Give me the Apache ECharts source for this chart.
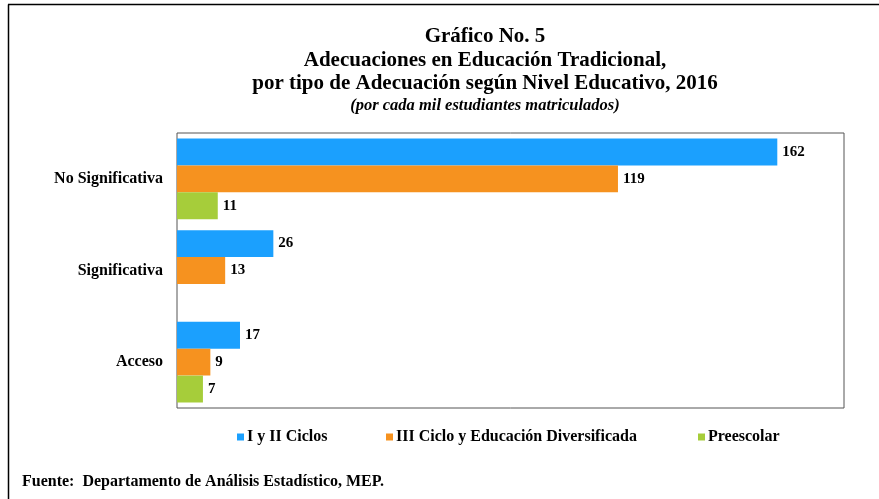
<!DOCTYPE html>
<html>
<head>
<meta charset="utf-8">
<script src="https://cdn.jsdelivr.net/npm/echarts@6/dist/echarts.min.js"></script>
<style>
  html, body { margin: 0; padding: 0; background: #fff; }
  #chart { width: 879px; height: 499px; }
</style>
</head>
<body>
<div id="chart"></div>
<script>
// data (por cada mil estudiantes)
var categorias = ["No Significativa", "Significativa", "Acceso"];
var cicloIyII = [162, 26, 17];
var cicloIII = [119, 13, 9];
var preescolar = [11, null, 7];
var nombres = ["I y II Ciclos", "III Ciclo y Educación Diversificada", "Preescolar"];
var colores = ["#1BA0FE", "#F6921F", "#A6CD3A"];

var serif = "Liberation Serif";

function serie(i, datos) {
    return {
        name: nombres[i],
        type: "bar",
        data: datos,
        barGap: "0%",
        barCategoryGap: "12%",
        itemStyle: { color: colores[i] },
        label: {
            show: true,
            position: "right",
            distance: 5,
            color: "#000",
            fontFamily: serif,
            fontWeight: "bold",
            fontSize: 15
        }
    };
}

// legends placed one by one, like the Excel original
function leyenda(i, x) {
    return {
        data: [nombres[i]],
        left: x,
        top: 429,
        padding: 0,
        icon: "rect",
        itemWidth: 7,
        itemHeight: 7,
        itemGap: 4,
        textStyle: { fontFamily: serif, fontWeight: "bold", fontSize: 16, color: "#000", padding: [0, 0, 0, -2] }
    };
}

var myChart = echarts.init(document.getElementById("chart"));
var option = {
    animation: false,
    title: [
        {
            text: "Gráfico No. 5\nAdecuaciones en Educación Tradicional,\npor tipo de Adecuación según Nivel Educativo, 2016",
            left: 485, top: 25, textAlign: "center", padding: 0,
            textStyle: { fontFamily: serif, fontWeight: "bold", fontSize: 21, lineHeight: 23.5, color: "#000" }
        },
        {
            text: "(por cada mil estudiantes matriculados)",
            left: 485, top: 97, textAlign: "center", padding: 0,
            textStyle: { fontFamily: serif, fontWeight: "bold", fontStyle: "italic", fontSize: 16.5, color: "#000" }
        },
        {
            text: "Fuente:  Departamento de Análisis Estadístico, MEP.",
            left: 22, top: 474, padding: 0,
            textStyle: { fontFamily: serif, fontWeight: "bold", fontSize: 16, color: "#000" }
        }
    ],
    legend: [leyenda(0, 237), leyenda(1, 386), leyenda(2, 698)],
    grid: {
        left: 177, top: 133, width: 667, height: 275,
        show: true, borderColor: "#555", borderWidth: 1, backgroundColor: "#fff"
    },
    xAxis: {
        type: "value", min: 0, max: 180,
        axisLine: { show: false }, axisTick: { show: false },
        axisLabel: { show: false }, splitLine: { show: false }
    },
    yAxis: {
        type: "category", data: categorias, inverse: true,
        axisLine: { show: false }, axisTick: { show: false },
        axisLabel: { margin: 14, color: "#000", fontFamily: serif, fontWeight: "bold", fontSize: 16 }
    },
    series: [serie(0, cicloIyII), serie(1, cicloIII), serie(2, preescolar)],
    graphic: [
        { type: "line", shape: { x1: 8.5, y1: 4.5, x2: 8.5, y2: 499 }, style: { stroke: "#000", lineWidth: 1.5 } },
        { type: "line", shape: { x1: 8, y1: 4.5, x2: 879, y2: 4.5 }, style: { stroke: "#000", lineWidth: 1.5 } }
    ]
};
myChart.setOption(option);
</script>
</body>
</html>
